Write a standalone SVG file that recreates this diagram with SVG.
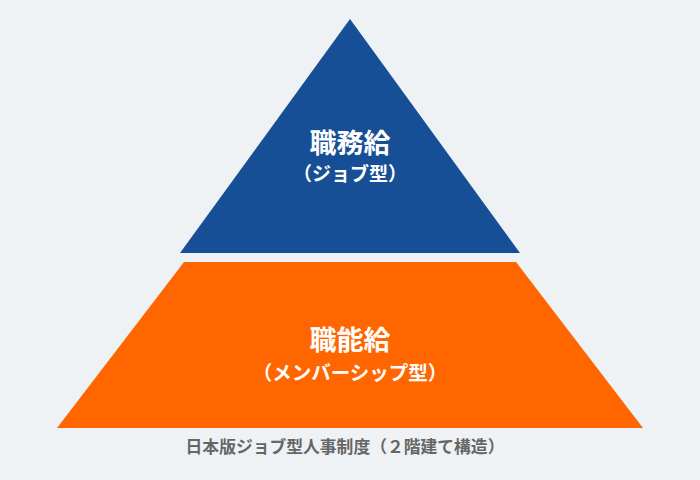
<svg xmlns="http://www.w3.org/2000/svg" width="700" height="480" viewBox="0 0 700 480">
<style>
.t{font-family:"Noto Sans CJK JP","Noto Sans CJK SC",sans-serif;font-weight:bold;fill:#fff;text-anchor:middle}
.c{font-family:"Noto Sans CJK JP","Noto Sans CJK SC",sans-serif;font-weight:bold;fill:#666;text-anchor:middle;font-size:16.8px}
</style>
<rect width="700" height="480" fill="#EEF2F5"/>
<g id="job">
<polygon points="350,19 520,253 180,253" fill="#174F96"/>
<text class="t" x="350" y="153" font-size="27">職務給</text>
<text class="t" x="350" y="181" font-size="19">（ジョブ型）</text>
</g>
<g id="member">
<polygon points="184,262 516,262 643,428 57,428" fill="#FF6600"/>
<text class="t" x="350" y="350" font-size="27">職能給</text>
<text class="t" x="350" y="380" font-size="19.5">（メンバーシップ型）</text>
</g>
<g id="caption">
<text class="c" x="345" y="453">日本版ジョブ型人事制度（２階建て構造）</text>
</g>
<g id="connectors"/>
</svg>
